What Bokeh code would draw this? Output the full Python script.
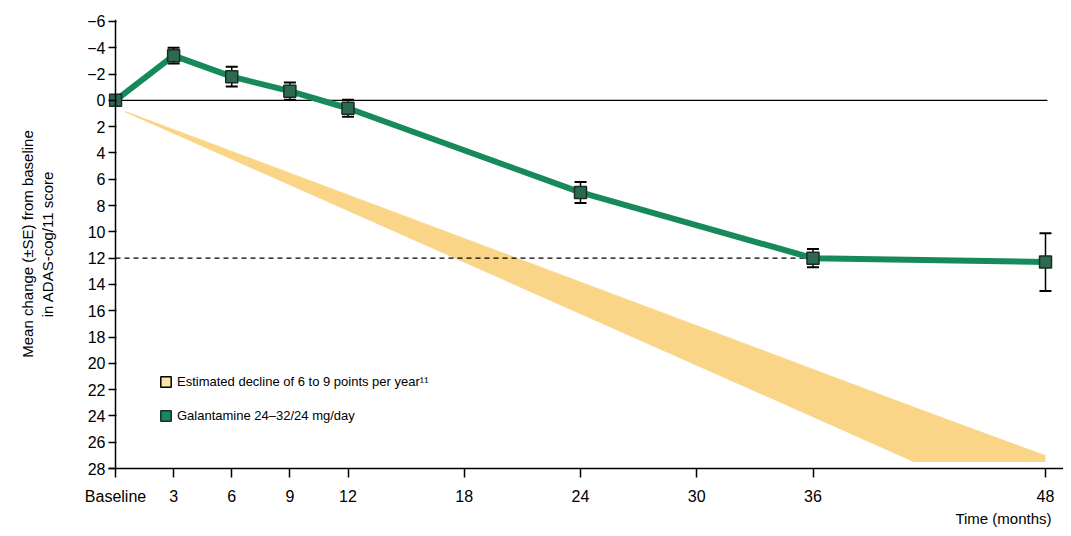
from bokeh.plotting import figure
from bokeh.models import (Range1d, Span, Whisker, TeeHead, ColumnDataSource, Legend, LegendItem,
                          Title, FixedTicker)
from bokeh.embed import file_html
from bokeh.resources import INLINE

# ---- data ----
months = [0, 3, 6, 9, 12, 24, 36, 48]
change = [0.0, -3.4, -1.8, -0.7, 0.6, 7.0, 12.0, 12.3]
se = [0.0, 0.6, 0.75, 0.65, 0.65, 0.8, 0.7, 2.2]

band_x = [0.5, 41.2, 48.0]
band_upper = [0.8, 23.3, 27.0]
band_lower = [0.9, 27.5, 27.5]

ref_level = 12
ref_end = 36

x_ticks = [0, 3, 6, 9, 12, 18, 24, 30, 36, 48]
x_tick_labels = {0: "Baseline"}
y_ticks = list(range(-6, 29, 2))

legend_band = "Estimated decline of 6 to 9 points per year\u00b9\u00b9"
legend_drug = "Galantamine 24\u201332/24 mg/day"
y_title = "Mean change (\u00b1SE) from baseline\nin ADAS-cog/11 score"
x_title = "Time (months)"

GREEN = "#178a5c"
GREEN_DARK = "#2b6a50"
BAND = "#fad07a"
BAND_LEG = "#fbe7a6"
FONT = "Liberation Sans"

px_per_month = 19.375
x0 = -7 / px_per_month
x1 = x0 + 955 / px_per_month

p = figure(frame_width=955, frame_height=449,
           x_range=Range1d(x0, x1), y_range=Range1d(28, -6.15),
           output_backend="svg", toolbar_location=None,
           min_border_left=108, min_border_right=0, min_border_top=19, min_border_bottom=60)
p.grid.visible = False
p.outline_line_color = None
p.background_fill_color = "white"

# band
p.varea(x=band_x, y1=band_upper, y2=band_lower, fill_color=BAND, fill_alpha=0.9)

# zero line and reference dashed line
p.segment(x0=[0], y0=[0], x1=[48.1], y1=[0], line_color="black", line_width=1.3)
p.segment(x0=[0], y0=[ref_level], x1=[ref_end], y1=[ref_level], line_color="black",
          line_width=1.3, line_dash="5 4")

# vertical axis line at month 0
p.add_layout(Span(location=0, dimension="height", line_color="black", line_width=1.5))

src = ColumnDataSource(dict(x=months, y=change))
p.line("x", "y", source=src, line_color=GREEN, line_width=6)
p.scatter("x", "y", source=src, marker="square", size=12, fill_color=GREEN_DARK,
          line_color="#1d2b25", line_width=1.5)

wx = [m for m, s in zip(months, se) if s > 0]
wu = [c - s for c, s in zip(change, se) if s > 0]
wl = [c + s for c, s in zip(change, se) if s > 0]
wsrc = ColumnDataSource(dict(base=wx, upper=wu, lower=wl))
w = Whisker(source=wsrc, base="base", upper="upper", lower="lower", dimension="height",
            line_color="black", line_width=1.5,
            upper_head=TeeHead(size=12, line_color="black", line_width=2),
            lower_head=TeeHead(size=12, line_color="black", line_width=2))
p.add_layout(w)

# axes
p.xaxis.ticker = FixedTicker(ticks=x_ticks)
p.xaxis.major_label_overrides = x_tick_labels
p.xaxis.minor_tick_line_color = None
p.xaxis.major_tick_in = 0
p.xaxis.major_tick_out = 9
p.xaxis.axis_line_width = 1.5
p.xaxis.major_tick_line_width = 1.5
p.xaxis.major_label_standoff = 10
p.xaxis.major_label_text_font = FONT
p.xaxis.major_label_text_font_size = "16px"
p.xaxis.major_label_text_color = "black"

p.yaxis.ticker = FixedTicker(ticks=y_ticks)
p.yaxis.minor_tick_line_color = None
p.yaxis.axis_line_color = None
p.yaxis.major_tick_in = 8
p.yaxis.major_tick_out = 0
p.yaxis.major_tick_line_width = 1.5
p.yaxis.major_label_standoff = 3
p.yaxis.major_label_text_font = FONT
p.yaxis.major_label_text_font_size = "16px"
p.yaxis.major_label_text_color = "black"
p.yaxis.axis_label = y_title
p.yaxis.axis_label_text_font = FONT
p.yaxis.axis_label_text_font_size = "15px"
p.yaxis.axis_label_text_font_style = "normal"
p.yaxis.axis_label_text_color = "black"
p.yaxis.axis_label_standoff = 28

p.add_layout(Title(text=x_title, align="right", offset=12, text_font=FONT,
                   text_font_size="15px", text_font_style="normal", text_color="black",
                   standoff=0), "below")

# legend (glyph-only renderers with no visible area)
nan = float("nan")
r_band = p.quad(left=[nan], right=[nan], top=[nan], bottom=[nan], fill_color=BAND_LEG,
                line_color="black", line_width=1.5)
r_drug = p.quad(left=[nan], right=[nan], top=[nan], bottom=[nan], fill_color=GREEN,
                line_color="#1d2b25", line_width=1.5)
leg = Legend(items=[LegendItem(label=legend_band, renderers=[r_band]),
                    LegendItem(label=legend_drug, renderers=[r_drug])],
             location=(51, 43), padding=0, margin=0, spacing=14,
             glyph_width=13, glyph_height=13, label_height=20, label_standoff=5,
             background_fill_alpha=0, border_line_color=None,
             label_text_font=FONT, label_text_font_size="13px", label_text_color="black")
p.add_layout(leg, "center")

open("out.html", "w").write(file_html(p, INLINE))
